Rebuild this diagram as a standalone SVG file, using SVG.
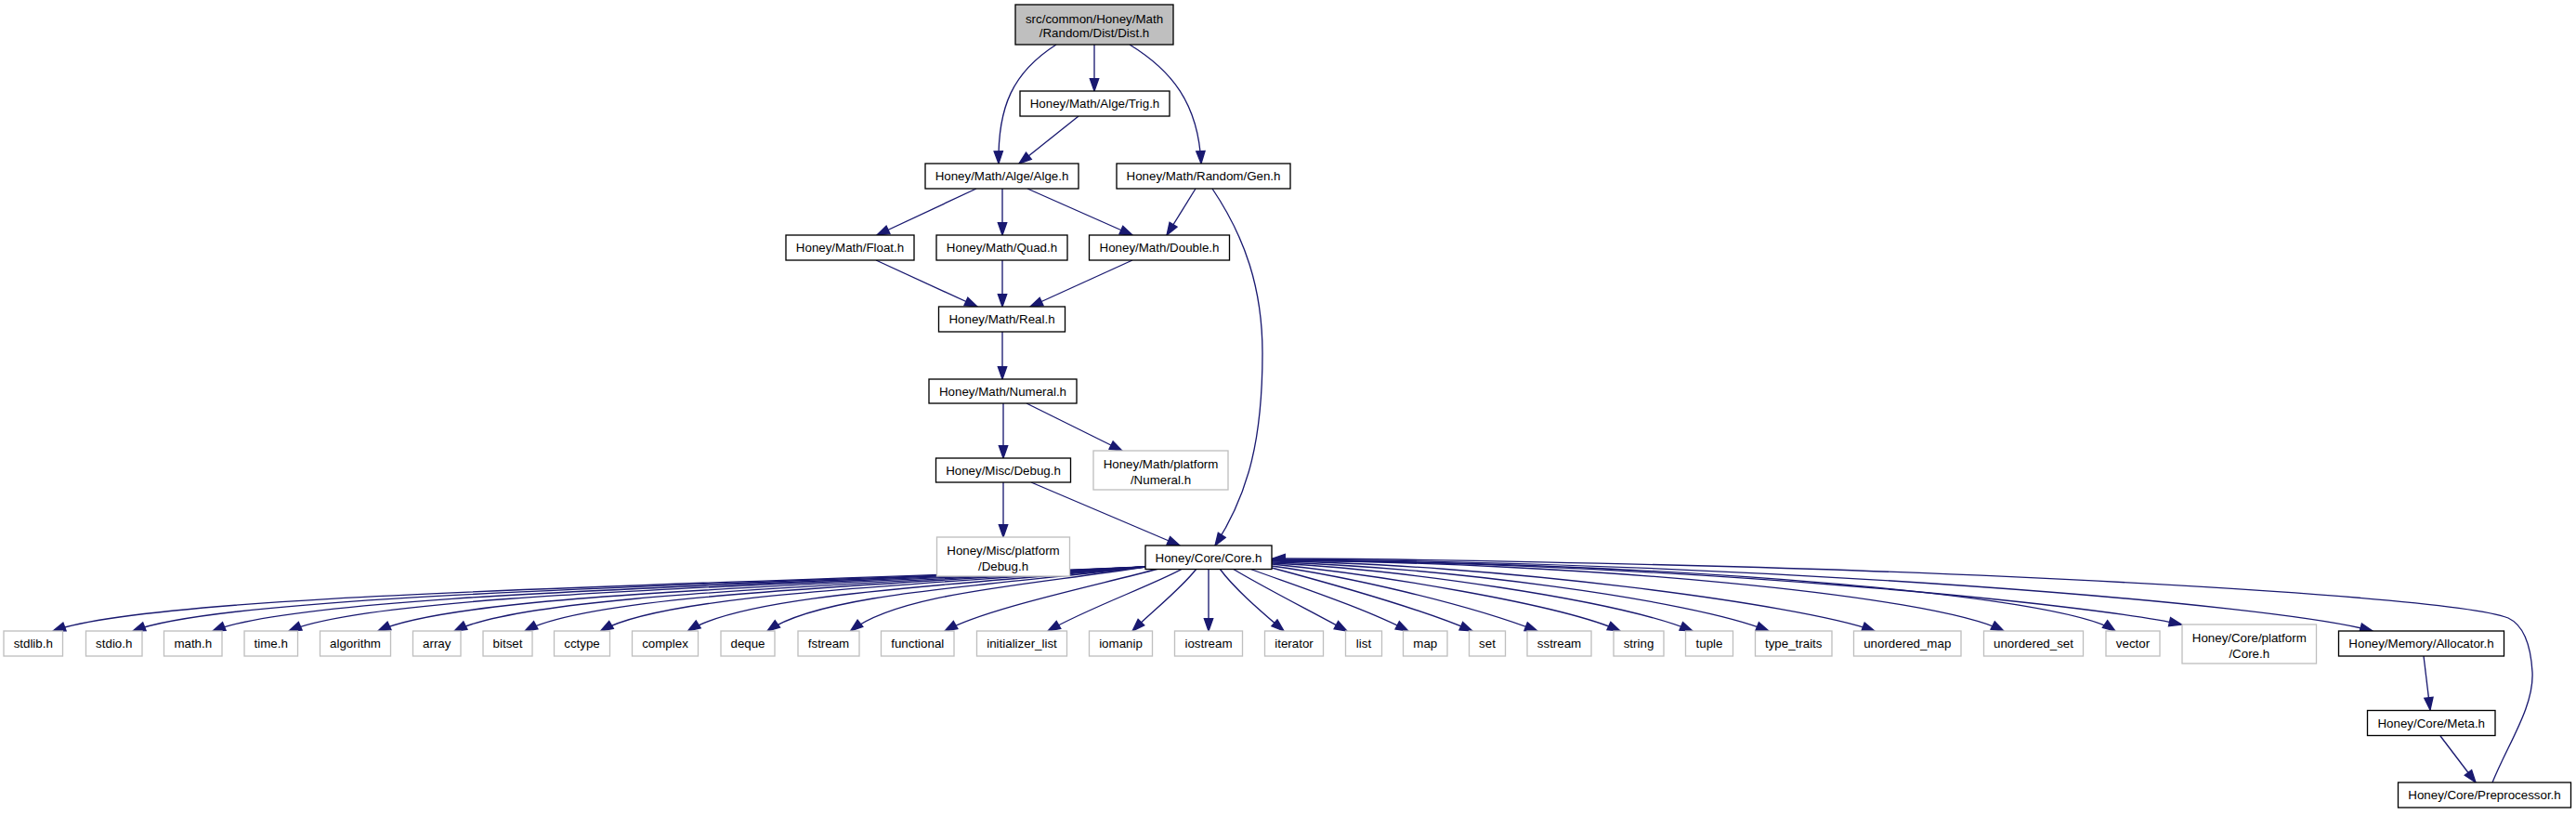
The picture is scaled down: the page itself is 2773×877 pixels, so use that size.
<svg xmlns="http://www.w3.org/2000/svg" width="2773" height="877" viewBox="0 0 2773 877">
<style>
.n rect{fill:#ffffff;stroke:#000000;stroke-width:1.33}
.u rect{fill:#ffffff;stroke:#bfbfbf;stroke-width:1.33}
.root rect{fill:#bfbfbf;stroke:#000000;stroke-width:1.33}
text{font-family:"Liberation Sans",Arial,Helvetica,sans-serif;font-size:13.33px;text-anchor:middle;fill:#000000}
#edges path{fill:none;stroke:#191970;stroke-width:1.33;marker-end:url(#ah)}
</style>
<defs>
<marker id="ah" markerWidth="16" markerHeight="12" refX="13.3" refY="4.67" orient="auto" markerUnits="userSpaceOnUse" overflow="visible">
<path d="M0,0 L13.3,4.67 L0,9.33 Z" fill="#191970" stroke="#191970" stroke-width="1.33"/>
</marker>
</defs>
<rect width="2773" height="877" fill="#ffffff"/>
<g id="edges">
<path d="M1137,48 C1090,78 1074,115 1075,176"/>
<path d="M1178,48 L1178,98"/>
<path d="M1216,48 C1260,75 1290,110 1293,176"/>
<path d="M1161,125 L1097,176"/>
<path d="M1051,203 L944,253"/>
<path d="M1079,203 L1079,253"/>
<path d="M1106,203 L1219,253"/>
<path d="M1287,203 L1256,253"/>
<path d="M1305,203 C1340,255 1359,310 1359,380 C1359,470 1345,530 1308,587"/>
<path d="M943,280 L1052,330"/>
<path d="M1079,280 L1079,330"/>
<path d="M1219,280 L1109,330"/>
<path d="M1079,357 L1079,408"/>
<path d="M1080,434 L1080,493"/>
<path d="M1105,434 L1208,485"/>
<path d="M1080,519 L1080,578"/>
<path d="M1110,519 L1270,587"/>
<path d="M1233,610 C762.6,630 169.3,638 57,679"/>
<path d="M1233,610 C797,630 249.3,638 143,679"/>
<path d="M1233,610 C831.4,630 329.3,638 229,679"/>
<path d="M1233,610 C864.2,630 405.5,638 311,679"/>
<path d="M1233,610 C902.6,630 494.8,638 407,679"/>
<path d="M1233,610 C935.4,630 571,638 489,679"/>
<path d="M1233,610 C965.8,630 641.8,638 565,679"/>
<path d="M1233,610 C998.4,630 717.5,638 646.5,679"/>
<path d="M1233,610 C1036,630 805,638 740.5,679"/>
<path d="M1233,610 C1070.2,630 884.5,638 826,679"/>
<path d="M1233,610 C1106,630 967.7,638 915.5,679"/>
<path d="M1247,612 C1180,630 1060,655 1017,679"/>
<path d="M1273,612 C1240,630 1170,655 1128,679"/>
<path d="M1288,612 C1270,635 1240,658 1219,679"/>
<path d="M1301,612 L1301,679"/>
<path d="M1313,612 C1330,635 1360,660 1382,679"/>
<path d="M1327,612 C1360,632 1410,657 1450,679"/>
<path d="M1345,612 C1400,632 1470,655 1516,679"/>
<path d="M1369,611 C1440,630 1530,655 1585,679"/>
<path d="M1369,609 C1450,620 1580,650 1655,679"/>
<path d="M1369,607 C1480,618 1680,650 1744,679"/>
<path d="M1369,606 C1500,612 1740,645 1822,679"/>
<path d="M1369,605 C1550,610 1820,645 1904,679"/>
<path d="M1369,604 C1600,606 1940,650 2018,679"/>
<path d="M1369,603 C1700,605 2080,640 2157,679"/>
<path d="M1369,603 C1800,605 2220,640 2277,679"/>
<path d="M1369,603 C1800,605 2250,650 2348.5,672"/>
<path d="M1369,602 C1900,605 2450,650 2554,679"/>
<path d="M2609,706 L2616,764"/>
<path d="M2627,792 L2665,842"/>
<path d="M2683,842 C2700,800 2728,760 2726,723 C2724,690 2715,672 2700,665 C2650,645 2300,625 2000,614 C1800,607 1500,601 1370,601"/>
</g>
<g id="node_dist" class="root"><rect x="1093" y="5" width="170" height="43"/><text x="1178" y="24.5">src/common/Honey/Math</text><text x="1178" y="40">/Random/Dist/Dist.h</text></g>
<g id="node_trig" class="n"><rect x="1098" y="98" width="161" height="27"/><text x="1178.5" y="116.2">Honey/Math/Alge/Trig.h</text></g>
<g id="node_alge" class="n"><rect x="996" y="176" width="165" height="27"/><text x="1078.5" y="194.2">Honey/Math/Alge/Alge.h</text></g>
<g id="node_gen" class="n"><rect x="1202" y="176" width="187" height="27"/><text x="1295.5" y="194.2">Honey/Math/Random/Gen.h</text></g>
<g id="node_float" class="n"><rect x="846" y="253" width="138" height="27"/><text x="915" y="271.2">Honey/Math/Float.h</text></g>
<g id="node_quad" class="n"><rect x="1008" y="253" width="141" height="27"/><text x="1078.5" y="271.2">Honey/Math/Quad.h</text></g>
<g id="node_double" class="n"><rect x="1172.5" y="253" width="151" height="27"/><text x="1248" y="271.2">Honey/Math/Double.h</text></g>
<g id="node_real" class="n"><rect x="1010.5" y="330" width="136" height="27"/><text x="1078.5" y="348.2">Honey/Math/Real.h</text></g>
<g id="node_numeral" class="n"><rect x="1000" y="408" width="159" height="26"/><text x="1079.5" y="425.7">Honey/Math/Numeral.h</text></g>
<g id="node_debug" class="n"><rect x="1007.5" y="493" width="145" height="26"/><text x="1080" y="510.7">Honey/Misc/Debug.h</text></g>
<g id="node_pnumeral" class="u"><rect x="1177" y="485" width="145" height="42"/><text x="1249.5" y="504">Honey/Math/platform</text><text x="1249.5" y="520.7">/Numeral.h</text></g>
<g id="node_pdebug" class="u"><rect x="1008.5" y="578" width="143" height="42"/><text x="1080" y="597">Honey/Misc/platform</text><text x="1080" y="613.7">/Debug.h</text></g>
<g id="node_core" class="n"><rect x="1233" y="587" width="136" height="25.5"/><text x="1301" y="604.5">Honey/Core/Core.h</text></g>
<g id="node_stdlib" class="u"><rect x="4" y="679" width="63.5" height="27"/><text x="35.75" y="697.2">stdlib.h</text></g>
<g id="node_stdio" class="u"><rect x="92.5" y="679" width="60.5" height="27"/><text x="122.75" y="697.2">stdio.h</text></g>
<g id="node_math" class="u"><rect x="176.5" y="679" width="62.5" height="27"/><text x="207.75" y="697.2">math.h</text></g>
<g id="node_time" class="u"><rect x="263" y="679" width="57.5" height="27"/><text x="291.75" y="697.2">time.h</text></g>
<g id="node_algorithm" class="u"><rect x="344.5" y="679" width="76" height="27"/><text x="382.5" y="697.2">algorithm</text></g>
<g id="node_array" class="u"><rect x="444.5" y="679" width="51.5" height="27"/><text x="470.25" y="697.2">array</text></g>
<g id="node_bitset" class="u"><rect x="520" y="679" width="53" height="27"/><text x="546.5" y="697.2">bitset</text></g>
<g id="node_cctype" class="u"><rect x="596.5" y="679" width="60" height="27"/><text x="626.5" y="697.2">cctype</text></g>
<g id="node_complex" class="u"><rect x="680.5" y="679" width="71" height="27"/><text x="716" y="697.2">complex</text></g>
<g id="node_deque" class="u"><rect x="776" y="679" width="58" height="27"/><text x="805" y="697.2">deque</text></g>
<g id="node_fstream" class="u"><rect x="859" y="679" width="66" height="27"/><text x="892" y="697.2">fstream</text></g>
<g id="node_functional" class="u"><rect x="948.5" y="679" width="78.5" height="27"/><text x="987.75" y="697.2">functional</text></g>
<g id="node_initializer_list" class="u"><rect x="1051.5" y="679" width="97" height="27"/><text x="1100" y="697.2">initializer_list</text></g>
<g id="node_iomanip" class="u"><rect x="1172.5" y="679" width="68" height="27"/><text x="1206.5" y="697.2">iomanip</text></g>
<g id="node_iostream" class="u"><rect x="1264.5" y="679" width="73" height="27"/><text x="1301" y="697.2">iostream</text></g>
<g id="node_iterator" class="u"><rect x="1361.5" y="679" width="63" height="27"/><text x="1393" y="697.2">iterator</text></g>
<g id="node_list" class="u"><rect x="1448.5" y="679" width="39" height="27"/><text x="1468" y="697.2">list</text></g>
<g id="node_map" class="u"><rect x="1510.5" y="679" width="47.5" height="27"/><text x="1534.25" y="697.2">map</text></g>
<g id="node_set" class="u"><rect x="1581.5" y="679" width="39" height="27"/><text x="1601" y="697.2">set</text></g>
<g id="node_sstream" class="u"><rect x="1644" y="679" width="69" height="27"/><text x="1678.5" y="697.2">sstream</text></g>
<g id="node_string" class="u"><rect x="1737" y="679" width="54" height="27"/><text x="1764" y="697.2">string</text></g>
<g id="node_tuple" class="u"><rect x="1814.5" y="679" width="51" height="27"/><text x="1840" y="697.2">tuple</text></g>
<g id="node_type_traits" class="u"><rect x="1889.5" y="679" width="82.5" height="27"/><text x="1930.75" y="697.2">type_traits</text></g>
<g id="node_unordered_map" class="u"><rect x="1995.5" y="679" width="115.5" height="27"/><text x="2053.25" y="697.2">unordered_map</text></g>
<g id="node_unordered_set" class="u"><rect x="2135.5" y="679" width="107" height="27"/><text x="2189" y="697.2">unordered_set</text></g>
<g id="node_vector" class="u"><rect x="2267" y="679" width="58" height="27"/><text x="2296" y="697.2">vector</text></g>
<g id="node_pcore" class="u"><rect x="2349" y="672" width="144.5" height="42"/><text x="2421.25" y="691">Honey/Core/platform</text><text x="2421.25" y="707.7">/Core.h</text></g>
<g id="node_allocator" class="n"><rect x="2517.5" y="679" width="178" height="27"/><text x="2606.5" y="697.2">Honey/Memory/Allocator.h</text></g>
<g id="node_meta" class="n"><rect x="2548.5" y="764.5" width="137.5" height="27"/><text x="2617.25" y="782.7">Honey/Core/Meta.h</text></g>
<g id="node_preprocessor" class="n"><rect x="2581.5" y="842" width="186" height="27"/><text x="2674.5" y="860.2">Honey/Core/Preprocessor.h</text></g>
</svg>
